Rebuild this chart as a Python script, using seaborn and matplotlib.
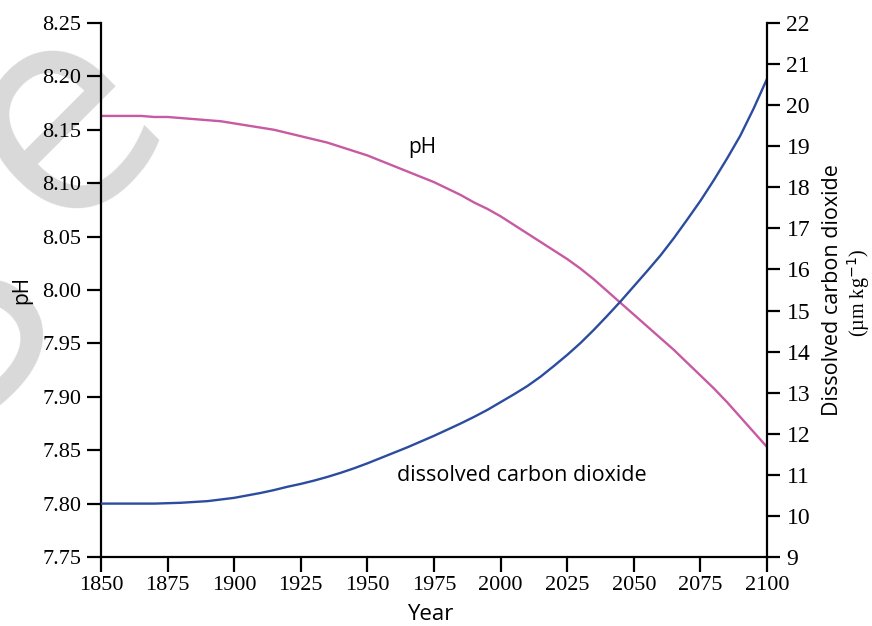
import numpy as np
import pandas as pd
import matplotlib
matplotlib.use("Agg")
import matplotlib.pyplot as plt
import seaborn as sns

years = list(range(1850, 2101, 5))
ph = [8.163, 8.163, 8.163, 8.163, 8.162, 8.162, 8.161, 8.160, 8.159, 8.158,
      8.156, 8.154, 8.152, 8.150, 8.147, 8.144, 8.141, 8.138, 8.134, 8.130,
      8.126, 8.121, 8.116, 8.111, 8.106, 8.101, 8.095, 8.089, 8.082, 8.076,
      8.069, 8.061, 8.053, 8.045, 8.037, 8.029, 8.020, 8.010, 7.999, 7.988,
      7.977, 7.966, 7.955, 7.944, 7.932, 7.920, 7.908, 7.895, 7.881, 7.867,
      7.853]
co2 = [10.30, 10.30, 10.30, 10.30, 10.30, 10.31, 10.32, 10.34, 10.36, 10.40,
       10.44, 10.50, 10.56, 10.63, 10.71, 10.78, 10.86, 10.95, 11.05, 11.16,
       11.28, 11.41, 11.54, 11.67, 11.81, 11.95, 12.10, 12.25, 12.41, 12.58,
       12.77, 12.96, 13.16, 13.39, 13.65, 13.92, 14.21, 14.53, 14.87, 15.22,
       15.59, 15.96, 16.34, 16.76, 17.21, 17.67, 18.17, 18.70, 19.26, 19.92,
       20.64]

x_ticks = [1850, 1875, 1900, 1925, 1950, 1975, 2000, 2025, 2050, 2075, 2100]
ph_ticks = [7.75, 7.80, 7.85, 7.90, 7.95, 8.00, 8.05, 8.10, 8.15, 8.20, 8.25]
co2_ticks = list(range(9, 23))

df = pd.DataFrame({"Year": years, "pH": ph, "CO2": co2})

sns.set_theme(style="ticks")
plt.rcParams['font.family'] = ['Open Sans', 'DejaVu Sans']
plt.rcParams['text.color'] = 'black'

PINK = "#c75aa2"
BLUE = "#2b4c9f"
SERIF = "Liberation Serif"
W, H = 872, 626

fig = plt.figure(figsize=(8.72, 6.26), dpi=100)

# faint watermark fragments behind the chart
fig.text(62 / W, 1 - 122 / H, "e", rotation=45, fontsize=215, color="#d9d9d9",
         ha="center", va="center", zorder=-5)
fig.text(-40 / W, 1 - 318 / H, "S", rotation=45, fontsize=215, color="#d9d9d9",
         ha="center", va="center", zorder=-5)

ax = fig.add_axes([101 / W, 1 - 557 / H, 666 / W, 534 / H])
ax2 = ax.twinx()
ax.patch.set_visible(False)
ax2.patch.set_visible(False)

sns.lineplot(data=df, x="Year", y="pH", ax=ax, color=PINK, linewidth=1.7)
sns.lineplot(data=df, x="Year", y="CO2", ax=ax2, color=BLUE, linewidth=1.7)

ax.set_xlim(1850, 2100)
ax.set_ylim(7.75, 8.25)
ax2.set_ylim(9, 22)
ax.set_xticks(x_ticks)
ax.set_xticklabels([str(v) for v in x_ticks], fontfamily=SERIF, fontsize=16)
ax.set_yticks(ph_ticks)
ax.set_yticklabels([f"{v:.2f}" for v in ph_ticks], fontfamily=SERIF, fontsize=16)
ax2.set_yticks(co2_ticks)
ax2.set_yticklabels([str(v) for v in co2_ticks], fontfamily=SERIF, fontsize=17)

for a in (ax, ax2):
    a.spines['top'].set_visible(False)
    for s in a.spines.values():
        s.set_linewidth(1.6)
        s.set_color("black")
ax.spines['right'].set_visible(False)
ax2.spines['left'].set_visible(False)
ax2.spines['bottom'].set_visible(False)

ax.tick_params(axis='y', direction='out', length=10, width=1.6, colors='black', pad=4)
ax.tick_params(axis='x', direction='out', length=11, width=1.6, colors='black', pad=3)
ax2.tick_params(axis='y', direction='out', length=9, width=1.6, colors='black', pad=5)

ax.set_xlabel("")
ax.set_ylabel("")
ax2.set_ylabel("")

fig.text(430 / W, 1 - 620 / H, "Year", fontsize=16, ha='center', va='baseline')
fig.text(22 / W, 1 - 290 / H, "pH", rotation=90, fontsize=15, ha='center', va='center')
fig.text(832 / W, 1 - 290 / H, "Dissolved carbon dioxide", rotation=90, fontsize=15.5,
         ha='center', va='center')
fig.text(859 / W, 1 - 293 / H, "(µm kg$^{-1}$)", rotation=90, fontsize=14.5,
         ha='center', va='center', family=SERIF)

ax.text(1970.5, 8.133, "pH", fontsize=15, ha='center', va='center')
ax.text(2008, 7.826, "dissolved carbon dioxide", fontsize=15.5, ha='center', va='center')

fig.savefig("out.png", dpi=100)
